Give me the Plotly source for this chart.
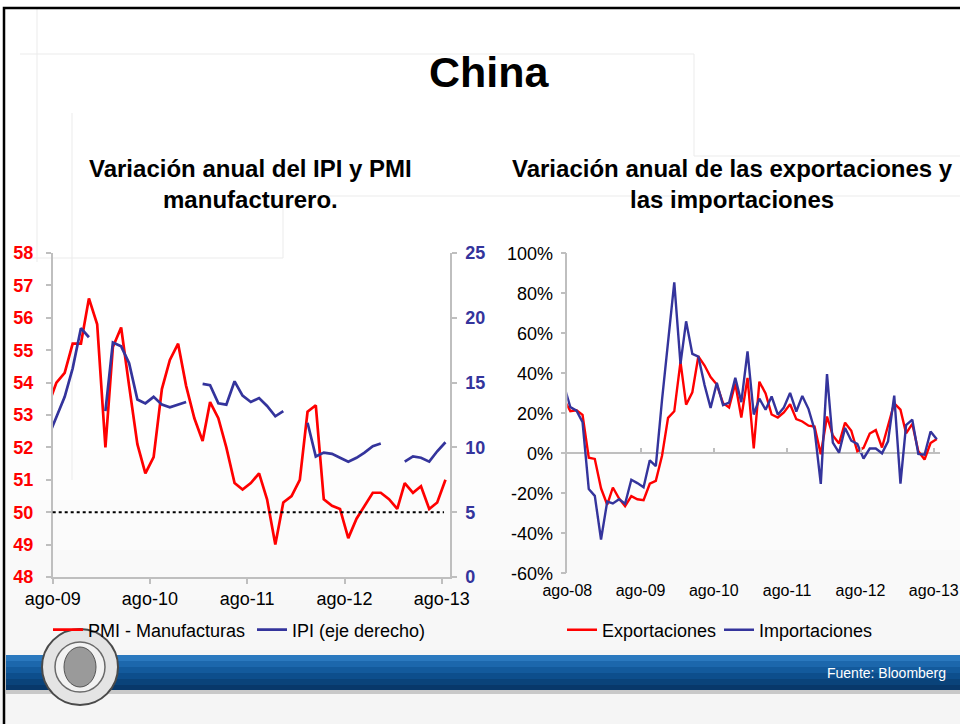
import pandas as pd
import plotly.graph_objects as go

W, H = 960, 724
FONT = "Liberation Sans, Arial, sans-serif"
RED = "#FF0000"
BLUE = "#34349C"
AXIS = "#BFBFBF"

# ---------------- data ----------------
# Left chart: monthly, Jul-2009 .. Aug-2013
left_first_month = "2009-07-01"
pmi_manufacturas = [53.3, 54.0, 54.3, 55.2, 55.2, 56.6,
                    55.8, 52.0, 55.1, 55.7, 53.9, 52.1, 51.2, 51.7, 53.8, 54.7, 55.2, 53.9,
                    52.9, 52.2, 53.4, 52.9, 52.0, 50.9, 50.7, 50.9, 51.2, 50.4, 49.0, 50.3,
                    50.5, 51.0, 53.1, 53.3, 50.4, 50.2, 50.1, 49.2, 49.8, 50.2, 50.6, 50.6,
                    50.4, 50.1, 50.9, 50.6, 50.8, 50.1, 50.3, 51.0]
ipi_eje_derecho = [10.8, 12.3, 13.9, 16.1, 19.2, 18.5,
                   None, 12.8, 18.1, 17.8, 16.5, 13.7, 13.4, 13.9, 13.3, 13.1, 13.3, 13.5,
                   None, 14.9, 14.8, 13.4, 13.3, 15.1, 14.0, 13.5, 13.8, 13.2, 12.4, 12.8,
                   None, None, 11.9, 9.3, 9.6, 9.5, 9.2, 8.9, 9.2, 9.6, 10.1, 10.3,
                   None, None, 8.9, 9.3, 9.2, 8.9, 9.7, 10.4]
pmi_threshold = 50
left_ticks = ["2009-08-01", "2010-08-01", "2011-08-01", "2012-08-01", "2013-08-01"]
left_ticktext = ["ago-09", "ago-10", "ago-11", "ago-12", "ago-13"]
left_range = ["2009-08-01", "2013-09-01"]

# Right chart: monthly, Jul-2008 .. Aug-2013 (% annual change)
right_first_month = "2008-07-01"
exportaciones = [26.9, 21.1, 21.5, 19.2, -2.2, -2.8,
                 -17.5, -25.7, -17.1, -22.6, -26.4, -21.4, -23.0, -23.4, -15.2, -13.8, -1.2, 17.7,
                 21.0, 45.7, 24.3, 30.5, 48.5, 43.9, 38.1, 34.4, 25.1, 22.9, 34.9, 17.9,
                 37.7, 2.4, 35.8, 29.9, 19.4, 17.9, 20.4, 24.5, 17.1, 15.9, 13.8, 13.4,
                 -0.5, 18.4, 8.9, 4.9, 15.3, 11.3, 1.0, 2.7, 9.9, 11.6, 2.9, 14.1,
                 25.0, 21.8, 10.0, 14.7, 1.0, -3.1, 5.1, 7.2]
importaciones = [33.7, 23.1, 21.3, 15.6, -17.9, -21.3,
                 -43.1, -24.1, -25.1, -23.0, -25.2, -13.2, -14.9, -17.0, -3.5, -6.4, 26.7, 55.9,
                 85.5, 44.7, 66.0, 49.7, 48.3, 34.1, 22.7, 35.2, 24.1, 25.3, 37.7, 25.6,
                 51.0, 19.4, 27.3, 21.8, 28.4, 19.3, 22.9, 30.2, 20.9, 28.7, 22.1, 11.8,
                 -15.3, 39.6, 5.3, 0.3, 12.7, 6.3, 4.7, -2.6, 2.4, 2.4, 0.0, 6.0,
                 28.8, -15.2, 14.1, 16.8, -0.3, -0.7, 10.9, 7.0]
right_ticks = ["2008-08-01", "2009-08-01", "2010-08-01", "2011-08-01", "2012-08-01", "2013-08-01"]
right_ticktext = ["ago-08", "ago-09", "ago-10", "ago-11", "ago-12", "ago-13"]
right_range = ["2008-08-01", "2013-09-01"]
right_yticks = [-60, -40, -20, 0, 20, 40, 60, 80, 100]
right_yticktext = [f"{v}%" for v in right_yticks]

left_dates = pd.date_range(left_first_month, periods=len(pmi_manufacturas), freq="MS") + pd.Timedelta(days=14)
right_dates = pd.date_range(right_first_month, periods=len(exportaciones), freq="MS") + pd.Timedelta(days=15)


def px(x):
    return x / W


def py(y):
    return 1 - y / H


fig = go.Figure()

fig.add_trace(go.Scatter(x=left_dates, y=pmi_manufacturas, mode="lines", name="PMI - Manufacturas",
                         line=dict(color=RED, width=2.7), xaxis="x", yaxis="y", legend="legend"))
fig.add_trace(go.Scatter(x=left_dates, y=ipi_eje_derecho, mode="lines", name="IPI (eje derecho)",
                         line=dict(color=BLUE, width=2.7), xaxis="x", yaxis="y2", legend="legend2",
                         connectgaps=False))
fig.add_trace(go.Scatter(x=right_dates, y=exportaciones, mode="lines", name="Exportaciones",
                         line=dict(color=RED, width=2.4), xaxis="x3", yaxis="y3", legend="legend3"))
fig.add_trace(go.Scatter(x=right_dates, y=importaciones, mode="lines", name="Importaciones",
                         line=dict(color=BLUE, width=2.4), xaxis="x3", yaxis="y3", legend="legend4"))
# helper (invisible) trace so the zero-line tick axis is drawn
fig.add_trace(go.Scatter(x=right_dates[:1], y=exportaciones[:1], mode="lines", showlegend=False,
                         line=dict(width=0), opacity=0, hoverinfo="skip", xaxis="x4", yaxis="y3"))


def tick_font_bold(c):
    return dict(family=FONT, size=18, color=c, weight="bold")


def legend_at(text_x):
    return dict(orientation="h", x=px(text_x - 40), y=py(630), xanchor="left", yanchor="middle",
                bgcolor="rgba(0,0,0,0)", borderwidth=0,
                font=dict(family=FONT, size=18, color="#000000"))


fig.update_layout(
    template="none",
    width=W, height=H,
    margin=dict(l=0, r=0, t=0, b=0, pad=0, autoexpand=False),
    paper_bgcolor="#FFFFFF",
    plot_bgcolor="rgba(0,0,0,0)",
    font=dict(family=FONT, color="#000000"),
    xaxis=dict(domain=[px(52.7), px(450)], anchor="y", type="date", range=left_range, automargin=False,
               tickmode="array", tickvals=left_ticks, ticktext=left_ticktext,
               showline=True, linecolor=AXIS, linewidth=1.5, ticks="outside", ticklen=5,
               tickcolor=AXIS, tickwidth=1.5, showgrid=False, zeroline=False,
               tickfont=dict(family=FONT, size=18, color="#000000")),
    yaxis=dict(domain=[py(577), py(253)], anchor="x", range=[48, 58], dtick=1, tick0=48, automargin=False,
               showline=True, linecolor=AXIS, linewidth=1.5, ticks="outside", ticklen=5,
               tickcolor=AXIS, tickwidth=1.5, showgrid=False, zeroline=False, ticklabelstandoff=9,
               tickfont=tick_font_bold(RED)),
    yaxis2=dict(overlaying="y", anchor="x", side="right", range=[0, 25], dtick=5, tick0=0, automargin=False,
                showline=True, linecolor=AXIS, linewidth=1.5, ticks="outside", ticklen=5,
                tickcolor=AXIS, tickwidth=1.5, showgrid=False, zeroline=False, ticklabelstandoff=5,
                tickfont=tick_font_bold(BLUE)),
    xaxis3=dict(domain=[px(567.3), px(940)], anchor="y3", type="date", range=right_range, automargin=False,
                tickmode="array", tickvals=right_ticks, ticktext=right_ticktext,
                showline=False, ticks="", showgrid=False, zeroline=False, ticklabelstandoff=6,
                tickfont=dict(family=FONT, size=16, color="#000000")),
    xaxis4=dict(overlaying="x3", anchor="free", position=py(453.3), type="date", range=right_range,
                automargin=False, tickmode="array", tickvals=right_ticks, showticklabels=False,
                showline=False, ticks="inside", ticklen=5, tickcolor=AXIS, tickwidth=1.5,
                showgrid=False, zeroline=False),
    yaxis3=dict(domain=[py(573.3), py(253.3)], anchor="x3", range=[-60, 100], automargin=False,
                tickmode="array", tickvals=right_yticks, ticktext=right_yticktext,
                showline=True, linecolor=AXIS, linewidth=1.5, ticks="outside", ticklen=5,
                tickcolor=AXIS, tickwidth=1.5, showgrid=False, ticklabelstandoff=4,
                zeroline=True, zerolinecolor=AXIS, zerolinewidth=1.5,
                tickfont=dict(family=FONT, size=18, color="#000000")),
    legend=legend_at(88),
    legend2=legend_at(292),
    legend3=legend_at(602),
    legend4=legend_at(759),
    showlegend=True,
)

shapes = []
# soft background gradient towards the bottom of the slide
for i, c in enumerate(["#FDFDFD", "#FBFBFB", "#F9F9F9", "#F7F7F7", "#F5F5F5"]):
    y0 = 450 + i * 50
    shapes.append(dict(type="rect", xref="paper", yref="paper", x0=0, x1=1, y0=py(724), y1=py(y0),
                       fillcolor=c, line=dict(width=0), layer="below"))
# faint decorative template lines
faint = "#EBEBEB"
for (x0, y0, x1, y1) in [(37, 9, 37, 262), (20, 54, 694, 54), (694, 54, 694, 156), (694, 156, 960, 156),
                         (72, 113, 72, 480), (283, 196, 960, 196), (283, 196, 283, 258), (20, 258, 283, 258)]:
    shapes.append(dict(type="line", xref="paper", yref="paper", x0=px(x0), y0=py(y0), x1=px(x1), y1=py(y1),
                       line=dict(color=faint, width=1), layer="below"))
# dotted 50 line
shapes.append(dict(type="line", xref="x domain", yref="y", x0=0, x1=0.985, y0=pmi_threshold, y1=pmi_threshold,
                   line=dict(color="#000000", width=2, dash="dot")))
# footer band with gradient
band = [(655, 661, "#2A78BE"), (661, 667, "#1C67AC"), (667, 673, "#135A9C"), (673, 679, "#0D4E8C"),
        (679, 685, "#0A437A"), (685, 690, "#08386A")]
for (y0, y1, c) in band:
    shapes.append(dict(type="rect", xref="paper", yref="paper", x0=px(6), x1=1, y0=py(y1), y1=py(y0),
                       fillcolor=c, line=dict(width=0)))
shapes.append(dict(type="rect", xref="paper", yref="paper", x0=px(6), x1=1, y0=py(694), y1=py(690),
                   fillcolor="#C8C8C8", line=dict(width=0)))
# logo seal
shapes.append(dict(type="circle", xref="paper", yref="paper", x0=px(42), x1=px(118), y0=py(705), y1=py(629),
                   fillcolor="#E4E4E4", line=dict(color="#4A4A4A", width=2)))
shapes.append(dict(type="circle", xref="paper", yref="paper", x0=px(55), x1=px(105), y0=py(692), y1=py(642),
                   fillcolor="#F2F2F2", line=dict(color="#6A6A6A", width=1.5)))
shapes.append(dict(type="circle", xref="paper", yref="paper", x0=px(64), x1=px(96), y0=py(687), y1=py(647),
                   fillcolor="#9A9A9A", line=dict(color="#555555", width=1)))
# slide frame
shapes.append(dict(type="rect", xref="paper", yref="paper", x0=px(4), x1=px(990), y0=py(760), y1=py(8),
                   fillcolor="rgba(0,0,0,0)", line=dict(color="#000000", width=2.5)))
fig.update_layout(shapes=shapes)

annotations = [
    dict(text="<b>China</b>", x=px(489), y=py(72), xref="paper", yref="paper", showarrow=False,
         xanchor="center", yanchor="middle", font=dict(family=FONT, size=43, color="#000000")),
    dict(text="<b>Variación anual del IPI y PMI<br>manufacturero.</b>", x=px(250), y=py(184),
         xref="paper", yref="paper", showarrow=False, xanchor="center", yanchor="middle",
         font=dict(family=FONT, size=24, color="#000000")),
    dict(text="<b>Variación anual de las exportaciones y<br>las importaciones</b>", x=px(732), y=py(184),
         xref="paper", yref="paper", showarrow=False, xanchor="center", yanchor="middle",
         font=dict(family=FONT, size=24, color="#000000")),
    dict(text="Fuente: Bloomberg", x=px(948), y=py(673), xref="paper", yref="paper", showarrow=False,
         xanchor="right", yanchor="middle", font=dict(family=FONT, size=14, color="#FFFFFF")),
]
fig.update_layout(annotations=annotations)

fig.write_html("out.html", config={"displayModeBar": False},
               post_script="document.body.style.margin='0px';document.body.style.overflow='hidden';")
